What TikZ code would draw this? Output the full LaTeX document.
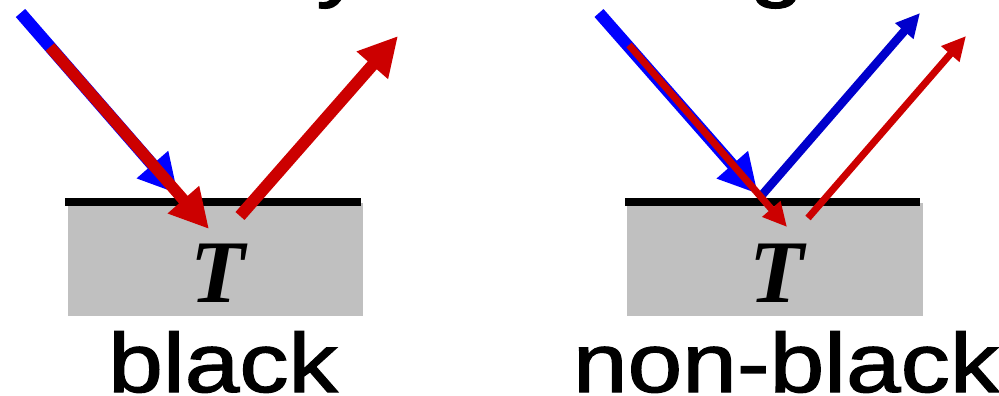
\documentclass[tikz,border=0pt]{standalone}
\usepackage{fontspec}
\setmainfont{Liberation Sans}
\newfontfamily\labelfont{Liberation Sans}[FakeBold=1.4]
\newfontfamily\tempfont{Liberation Serif}
\usetikzlibrary{arrows.meta}

\definecolor{rayblue}{HTML}{0000FF}
\definecolor{raydarkblue}{HTML}{0000CC}
\definecolor{rayred}{HTML}{CC0000}
\definecolor{slabgray}{HTML}{C0C0C0}

\begin{document}
\begin{tikzpicture}[x=0.75pt,y=-0.75pt,
  fatray/.style={line width=#1, line cap=butt,
    -{Triangle[length=29.25pt,width=29.25pt]}},
  thinray/.style={line width=#1, line cap=butt,
    -{Triangle[length=18pt,width=17pt]}},
  surface/.style={line width=6pt, black},
  slab/.style={fill=slabgray},
  label/.style={inner sep=0pt, anchor=base,
    font=\labelfont\fontsize{63}{70}\selectfont},
  tlabel/.style={inner sep=0pt, anchor=base,
    font=\tempfont\bfseries\itshape\fontsize{67}{70}\selectfont},
]
\useasboundingbox (0,0) rectangle (999,396);
\clip (0,0) rectangle (999,396);

% headings above, only their descenders fall inside the frame
\node[label, anchor=base west] (headl) at (316,-9) {\scalebox{1.17}[1]{y}};
\node[label, anchor=base west] (headr) at (749,-9) {\scalebox{1.17}[1]{g}};

% ---------- black body ----------
\fill[slab] (68,203) rectangle (363,316);
\draw[surface] (65,202) -- (361,202);
\node[tlabel] (tl) at (218,302) {T};
\node[label] (bl) at (223,392) {\scalebox{1.17}[1]{black}};

\coordinate (lbs) at (20.5,13);
\coordinate (lbt) at (178,194);
\coordinate (lrs) at (50,47);
\coordinate (lrt) at (209,229);
\coordinate (los) at (240,216);
\coordinate (lot) at (398,36);
\draw[rayblue, fatray=9.3pt] (lbs) -- (lbt);
\draw[rayred, fatray=8.6pt] (lrs) -- (lrt);
\draw[rayred, fatray=9pt] (los) -- (lot);

% ---------- non-black body ----------
\fill[slab] (627,203) rectangle (923,316);
\draw[surface] (625,202) -- (920,202);
\node[tlabel] (tr) at (777,302) {T};
\node[label] (nbl) at (786,392) {\scalebox{1.17}[1]{non-black}};

\coordinate (rbs) at (599,13);
\coordinate (rbt) at (758,194);
\coordinate (rrs) at (629,45);
\coordinate (rrt) at (787,227);
\coordinate (rbos) at (762,195);
\coordinate (rbot) at (920,13);
\coordinate (ros) at (808,218);
\coordinate (rot) at (966,36);
\draw[rayblue, fatray=9pt] (rbs) -- (rbt);
\draw[raydarkblue, thinray=6.4pt] (rbos) -- (rbot);
\draw[rayred, thinray=5.25pt] (rrs) -- (rrt);
\draw[rayred, thinray=5.25pt] (ros) -- (rot);
\end{tikzpicture}
\end{document}
